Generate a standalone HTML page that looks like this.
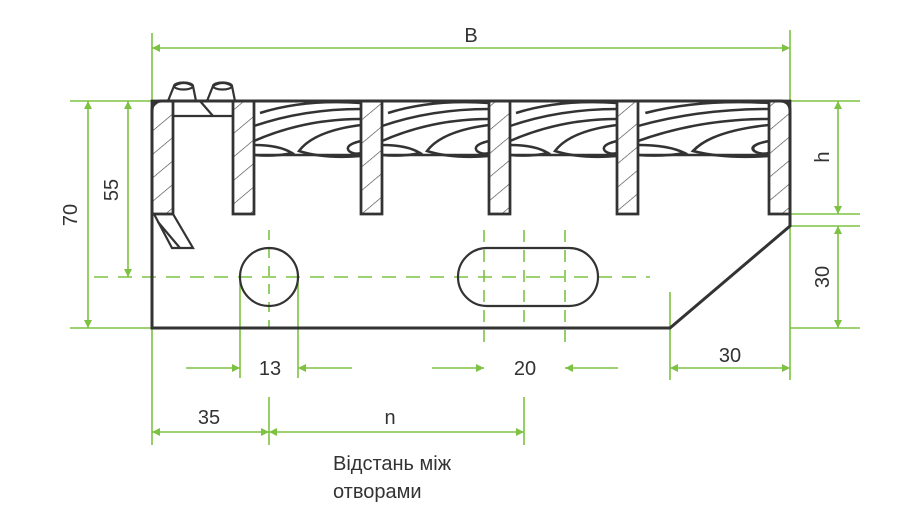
<!DOCTYPE html>
<html><head><meta charset="utf-8"><style>
html,body{margin:0;padding:0;background:#fff;}
svg{display:block}
text{font-family:"Liberation Sans","DejaVu Sans",sans-serif;fill:#333;font-size:20px}
</style></head><body>
<svg width="900" height="524" viewBox="0 0 900 524" xmlns="http://www.w3.org/2000/svg">
<defs>
<marker id="a" viewBox="0 0 10 10" refX="10" refY="5" markerWidth="16" markerHeight="8" markerUnits="userSpaceOnUse" orient="auto-start-reverse"><path d="M0,0L10,5L0,10z" fill="#7dc242"/></marker>
<pattern id="h" width="18" height="18" patternUnits="userSpaceOnUse" patternTransform="rotate(-40)"><line x1="0" y1="0" x2="18" y2="0" stroke="#444" stroke-width="1.3"/></pattern>
<g id="wave" fill="none" stroke="#333" stroke-width="2.5">
<path d="M6,12 Q50,-2 107,2"/>
<path d="M0,25 Q50,8 107,8"/>
<path d="M0,40 Q50,18 107,18"/>
<path d="M107,24 Q60,30 45,50 Q70,58 107,55"/>
<path d="M0,44 Q25,44 38,52 Q20,56 0,54"/>
<path d="M107,40 Q90,44 95,50 Q100,54 107,52"/>
</g>
</defs>
<g stroke="#7dc242" stroke-width="1.6" fill="none">
<line x1="94" y1="277" x2="650" y2="277" stroke-dasharray="14,10"/>
<line x1="269" y1="230" x2="269" y2="328" stroke-dasharray="10,8"/>
<line x1="484" y1="230" x2="484" y2="345" stroke-dasharray="12,8"/>
<line x1="524" y1="230" x2="524" y2="330" stroke-dasharray="12,8"/>
<line x1="565" y1="230" x2="565" y2="345" stroke-dasharray="12,8"/>
<line x1="152" y1="33" x2="152" y2="101"/>
<line x1="790" y1="30" x2="790" y2="101"/>
<line x1="70" y1="101" x2="160" y2="101"/>
<line x1="70" y1="328" x2="152" y2="328"/>
<line x1="790" y1="101" x2="860" y2="101"/>
<line x1="790" y1="214" x2="860" y2="214"/>
<line x1="790" y1="226" x2="860" y2="226"/>
<line x1="790" y1="328" x2="860" y2="328"/>
<line x1="790" y1="226" x2="790" y2="380"/>
<line x1="670" y1="292" x2="670" y2="380"/>
<line x1="240" y1="282" x2="240" y2="378"/>
<line x1="298" y1="282" x2="298" y2="378"/>
<line x1="152" y1="328" x2="152" y2="445"/>
<line x1="269" y1="397" x2="269" y2="445"/>
<line x1="524" y1="397" x2="524" y2="445"/>
<line x1="152" y1="48" x2="790" y2="48" marker-start="url(#a)" marker-end="url(#a)"/>
<line x1="88" y1="101" x2="88" y2="328" marker-start="url(#a)" marker-end="url(#a)"/>
<line x1="128" y1="101" x2="128" y2="277" marker-start="url(#a)" marker-end="url(#a)"/>
<line x1="838" y1="101" x2="838" y2="214" marker-start="url(#a)" marker-end="url(#a)"/>
<line x1="838" y1="226" x2="838" y2="328" marker-start="url(#a)" marker-end="url(#a)"/>
<line x1="670" y1="368" x2="790" y2="368" marker-start="url(#a)" marker-end="url(#a)"/>
<line x1="186" y1="368" x2="240" y2="368" marker-end="url(#a)"/>
<line x1="352" y1="368" x2="298" y2="368" marker-end="url(#a)"/>
<line x1="432" y1="368" x2="484" y2="368" marker-end="url(#a)"/>
<line x1="618" y1="368" x2="565" y2="368" marker-end="url(#a)"/>
<line x1="152" y1="432" x2="269" y2="432" marker-start="url(#a)" marker-end="url(#a)"/>
<line x1="269" y1="432" x2="524" y2="432" marker-start="url(#a)" marker-end="url(#a)"/>
</g>
<use href="#wave" x="254" y="101"/>
<use href="#wave" x="382" y="101"/>
<use href="#wave" x="510" y="101"/>
<use href="#wave" transform="translate(638,101) scale(1.224,1)"/>
<g fill="none" stroke="#333" stroke-width="2.5">
<line x1="254" y1="155" x2="361" y2="155"/>
<line x1="382" y1="155" x2="489" y2="155"/>
<line x1="510" y1="155" x2="617" y2="155"/>
<line x1="638" y1="155" x2="769" y2="155"/>
</g>
<g stroke="#333" stroke-width="2.5" fill="url(#h)">
<rect x="233" y="101" width="21" height="113" fill="#fff"/>
<rect x="361" y="101" width="21" height="113" fill="#fff"/>
<rect x="489" y="101" width="21" height="113" fill="#fff"/>
<rect x="617" y="101" width="21" height="113" fill="#fff"/>
<rect x="769" y="101" width="21" height="113" fill="#fff"/>
<rect x="152" y="101" width="21" height="113" fill="#fff"/>
<rect x="233" y="101" width="21" height="113"/>
<rect x="361" y="101" width="21" height="113"/>
<rect x="489" y="101" width="21" height="113"/>
<rect x="617" y="101" width="21" height="113"/>
<rect x="769" y="101" width="21" height="113"/>
<rect x="152" y="101" width="21" height="113"/>
</g>
<g fill="none" stroke="#333" stroke-width="3">
<path d="M152,328 L152,111 Q152,101 162,101 L780,101 Q790,101 790,111 L790,226 L670,328 Z"/>
</g>
<g fill="none" stroke="#333" stroke-width="2.2">
<line x1="173" y1="116" x2="233" y2="116"/>
<line x1="200" y1="101" x2="213" y2="116"/>
<path d="M154,214 L173,214 L193,248 L172,248 Z"/>
<line x1="158" y1="222" x2="180" y2="248"/>
<path d="M168,101 L174,86 Q184,80 193,86 L196,101"/>
<ellipse cx="183.5" cy="86" rx="9.5" ry="3.5"/>
<path d="M207,101 L213,86 Q223,80 232,86 L235,101"/>
<ellipse cx="222.5" cy="86" rx="9.5" ry="3.5"/>
<circle cx="269" cy="277" r="29"/>
<rect x="458" y="248" width="140" height="58" rx="29"/>
</g>
<text x="471" y="42" text-anchor="middle">B</text>
<text transform="translate(77,215) rotate(-90)" text-anchor="middle">70</text>
<text transform="translate(118,190) rotate(-90)" text-anchor="middle">55</text>
<text transform="translate(829,157) rotate(-90)" text-anchor="middle">h</text>
<text transform="translate(829,277) rotate(-90)" text-anchor="middle">30</text>
<text x="730" y="362" text-anchor="middle">30</text>
<text x="270" y="375" text-anchor="middle">13</text>
<text x="525" y="375" text-anchor="middle">20</text>
<text x="209" y="424" text-anchor="middle">35</text>
<text x="390" y="424" text-anchor="middle">n</text>
<text x="333" y="470">Відстань між</text>
<text x="333" y="498">отворами</text>
</svg>
</body></html>
